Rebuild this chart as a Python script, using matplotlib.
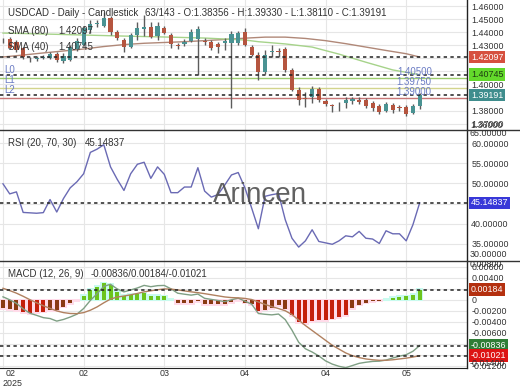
import matplotlib
matplotlib.use('Agg')
import matplotlib.pyplot as plt
from matplotlib.lines import Line2D
import numpy as np

plt.rcParams['font.family'] = ['Liberation Sans', 'DejaVu Sans']

# ---------------- data ----------------
opens = [1.4332, 1.4348, 1.4325, 1.4279, 1.4191, 1.4195, 1.4202, 1.4202, 1.4233, 1.4179,
         1.4187, 1.4271, 1.4302, 1.4416, 1.4462, 1.4447, 1.4508, 1.4401, 1.4340, 1.4286,
         1.4378, 1.4424, 1.4439, 1.4370, 1.4432, 1.4378, 1.4302, 1.4309, 1.4332, 1.4348,
         1.4332, 1.4325, 1.4309, 1.4317, 1.4317, 1.4317, 1.4401, 1.4286, 1.4225, 1.4095,
         1.4248, 1.4256, 1.4271, 1.4111, 1.3958, 1.3896, 1.3904, 1.3965, 1.3873, 1.3843,
         1.3850, 1.3858, 1.3873, 1.3881, 1.3881, 1.3858, 1.3835, 1.3797, 1.3843, 1.3827,
         1.3827, 1.3782, 1.38356]
highs = [1.4355, 1.4363, 1.4340, 1.4286, 1.4210, 1.4218, 1.4225, 1.4248, 1.4248, 1.4241,
         1.4302, 1.4355, 1.4447, 1.4493, 1.4493, 1.4554, 1.4524, 1.4416, 1.4355, 1.4393,
         1.4478, 1.4531, 1.4478, 1.4478, 1.4447, 1.4393, 1.4317, 1.4348, 1.4424, 1.4447,
         1.4355, 1.4340, 1.4325, 1.4355, 1.4409, 1.4409, 1.4432, 1.4302, 1.4248, 1.4263,
         1.4302, 1.4279, 1.4286, 1.4126, 1.3980, 1.3942, 1.3988, 1.3980, 1.3889, 1.3850,
         1.3866, 1.3904, 1.3904, 1.3904, 1.3896, 1.3873, 1.3850, 1.3866, 1.3858, 1.3843,
         1.3843, 1.3850, 1.39330]
lows = [1.4317, 1.4271, 1.4248, 1.4195, 1.4172, 1.4179, 1.4195, 1.4195, 1.4172, 1.4164,
        1.4179, 1.4256, 1.4294, 1.4393, 1.4439, 1.4439, 1.4378, 1.4340, 1.4248, 1.4279,
        1.4340, 1.4370, 1.4355, 1.4340, 1.4386, 1.4279, 1.4271, 1.4294, 1.4325, 1.4072,
        1.4302, 1.4263, 1.4241, 1.4263, 1.3820, 1.4302, 1.4294, 1.4218, 1.4034, 1.4080,
        1.4210, 1.4210, 1.4095, 1.3950, 1.3843, 1.3827, 1.3858, 1.3866, 1.3835, 1.3789,
        1.3797, 1.3820, 1.3850, 1.3850, 1.3820, 1.3797, 1.3774, 1.3789, 1.3782, 1.3797,
        1.3759, 1.3774, 1.38110]
closes = [1.4329, 1.4279, 1.4263, 1.4210, 1.4195, 1.4198, 1.4210, 1.4233, 1.4187, 1.4218,
          1.4286, 1.4332, 1.4432, 1.4462, 1.4466, 1.4508, 1.4401, 1.4355, 1.4286, 1.4378,
          1.4432, 1.4439, 1.4363, 1.4447, 1.4393, 1.4309, 1.4294, 1.4325, 1.4401, 1.4424,
          1.4325, 1.4279, 1.4286, 1.4332, 1.4386, 1.4393, 1.4302, 1.4225, 1.4095, 1.4225,
          1.4252, 1.4252, 1.4111, 1.3958, 1.3881, 1.3889, 1.3965, 1.3881, 1.3850, 1.3835,
          1.3847, 1.3881, 1.3889, 1.3866, 1.3835, 1.3820, 1.3789, 1.3850, 1.3804, 1.3820,
          1.3774, 1.3835, 1.39191]

sma80_idx = [0, 3, 6, 9, 12, 15, 18, 21, 24, 27, 30, 33, 36, 39, 42, 45, 48, 51, 54, 57, 60, 62]
sma80 = [1.4210, 1.4225, 1.4241, 1.4256, 1.4271, 1.4290, 1.4305, 1.4315, 1.4321, 1.4327,
         1.4335, 1.4344, 1.4354, 1.4362, 1.4362, 1.4352, 1.4335, 1.4312, 1.4286, 1.4260,
         1.4235, 1.42097]
sma40_idx = [0, 6, 12, 18, 24, 30, 36, 38, 42, 46, 50, 54, 58, 62]
sma40 = [1.4393, 1.4386, 1.4378, 1.4370, 1.4363, 1.4355, 1.4340, 1.4327, 1.4310, 1.4286,
         1.4232, 1.4170, 1.4111, 1.40745]

levels = [1.40500, 1.39750, 1.39000]
level_names = ['L0', 'L1', 'L2']

rsi = [49.9, 47.4, 47.9, 42.8, 42.7, 42.6, 42.75, 46.0, 42.9, 46.25,
       48.9, 50.4, 52.4, 57.7, 58.5, 59.6, 54.1, 51.0, 48.25, 52.4,
       54.75, 55.25, 51.25, 54.1, 52.25, 47.7, 47.7, 49.1, 49.1, 53.9,
       48.1, 46.6, 47.25, 49.6, 52.1, 52.7, 48.9, 43.9, 38.75, 46.8,
       47.2, 47.5, 41.0, 36.4, 34.2, 35.75, 38.5, 35.6, 35.25, 34.9,
       35.75, 37.0, 36.75, 38.1, 36.4, 36.2, 35.1, 38.25, 37.5, 37.5,
       35.75, 39.75, 45.14837]

macd_hist = [-0.00156, -0.00168, -0.00186, -0.00229, -0.00247, -0.00229, -0.00217, -0.00186, -0.00186, -0.00125,
             -0.00065, -0.00010, 0.00075, 0.00179, 0.00240, 0.00300, 0.00270, 0.00148, 0.00075, 0.00088,
             0.00100, 0.00118, 0.00075, 0.00075, 0.00063, 0.00005, -0.00060, -0.00060, -0.00060, -0.00025,
             -0.00085, -0.00085, -0.00085, -0.00085, -0.00040, -0.00005, -0.00050, -0.00085, -0.00210, -0.00180,
             -0.00150, -0.00100, -0.00162, -0.00284, -0.00405, -0.00424, -0.00393, -0.00375, -0.00375, -0.00344,
             -0.00314, -0.00284, -0.00150, -0.00089, -0.00052, -0.00022, -0.00016, 0.00005, 0.00033, 0.00051,
             0.00063, 0.00094, 0.00184]
macd_line = [0.00054, 0.00000, -0.00065, -0.00165, -0.00245, -0.00284, -0.00326, -0.00342, -0.00389, -0.00359,
             -0.00315, -0.00263, -0.00159, -0.00011, 0.00110, 0.00245, 0.00283, 0.00198, 0.00144, 0.00179,
             0.00216, 0.00263, 0.00239, 0.00258, 0.00262, 0.00200, 0.00120, 0.00102, 0.00085, 0.00105,
             0.00027, 0.00007, -0.00013, -0.00033, 0.00000, 0.00030, -0.00025, -0.00080, -0.00250, -0.00265,
             -0.00275, -0.00260, -0.00362, -0.00554, -0.00775, -0.00894, -0.00953, -0.01025, -0.01115, -0.01174,
             -0.01214, -0.01240, -0.01200, -0.01160, -0.01140, -0.01125, -0.01120, -0.01100, -0.01062, -0.01029,
             -0.01002, -0.00940, -0.00836]
signal_line = [0.00210, 0.00168, 0.00121, 0.00064, 0.00002, -0.00055, -0.00109, -0.00156, -0.00203, -0.00234,
               -0.00250, -0.00253, -0.00234, -0.00190, -0.00130, -0.00055, 0.00013, 0.00050, 0.00069, 0.00091,
               0.00116, 0.00145, 0.00164, 0.00183, 0.00199, 0.00195, 0.00180, 0.00162, 0.00145, 0.00130,
               0.00112, 0.00092, 0.00072, 0.00052, 0.00040, 0.00035, 0.00025, 0.00005, -0.00040, -0.00085,
               -0.00125, -0.00160, -0.00200, -0.00270, -0.00370, -0.00470, -0.00560, -0.00650, -0.00740, -0.00830,
               -0.00900, -0.00970, -0.01020, -0.01055, -0.01080, -0.01095, -0.01105, -0.01105, -0.01095, -0.01080,
               -0.01065, -0.01045, -0.01021]

xtick_pos = [0, 12, 24, 36, 48, 60]
xtick_labels = ['02', '02', '03', '04', '04', '05']
year_label = '2025'

price_ticks = [1.37, 1.38, 1.39, 1.40, 1.41, 1.42, 1.43, 1.44, 1.45, 1.46]
price_hidden = [1.39, 1.42]          # labels covered by the value tags
rsi_ticks = [35, 40, 45, 50, 55, 60]
macd_ticks = [-0.012, -0.010, -0.008, -0.006, -0.004, -0.002, 0.0, 0.002, 0.004, 0.006]
macd_hidden = [-0.010, -0.008, 0.002]  # labels covered by the value tags

# ---------------- layout ----------------
W, H = 520, 390
fig = plt.figure(figsize=(5.2, 3.9), dpi=100)
fig.patch.set_facecolor('white')


def fx(px):
    return px / W


def fy(py):
    return 1 - py / H


AXR = 467
ax_p = fig.add_axes([0, fy(130), fx(AXR), 130 / H])
ax_r = fig.add_axes([0, fy(261), fx(AXR), 131 / H])
ax_m = fig.add_axes([0, fy(368), fx(AXR), 107 / H])

n = len(closes)
idx = np.arange(n)
XL = (-3 / 6.72, (AXR - 3) / 6.72)

TXT = '#333333'
GRID = '#e6e6e6'
TFS = 6.4

for ax in (ax_p, ax_r, ax_m):
    ax.set_xlim(*XL)
    ax.set_xticks(xtick_pos)
    ax.grid(True, color=GRID, lw=0.8, zorder=0)
    ax.set_axisbelow(True)
    ax.yaxis.tick_right()
    ax.tick_params(axis='y', length=0, labelsize=TFS, labelcolor=TXT, pad=3)
    ax.tick_params(axis='x', length=0, labelsize=TFS, labelcolor=TXT, pad=1)
    for s in ('left', 'top', 'bottom'):
        ax.spines[s].set_visible(False)
    ax.spines['right'].set_color('#222222')
    ax.spines['right'].set_linewidth(1)
    ax.set_facecolor('white')

ax_p.set_xticklabels([])
ax_r.set_xticklabels([])
ax_m.set_xticklabels([''] + xtick_labels[1:])
ax_m.spines['bottom'].set_visible(True)
ax_m.spines['bottom'].set_color('#222222')


def tag(ax, val, text, fc, tc='white'):
    ax.annotate(text, xy=(1, val), xycoords=('axes fraction', 'data'),
                xytext=(4, 0), textcoords='offset pixels', ha='left', va='center',
                fontsize=TFS, color=tc, zorder=20, annotation_clip=False,
                bbox=dict(boxstyle='square,pad=0.22', fc=fc, ec='none'))


def dotted(ax, val):
    ax.axhline(val, color='#222222', lw=1.1, ls=(0, (2.2, 2.2)), zorder=4)


def near(v, lst):
    return any(abs(v - q) < 1e-9 for q in lst)


# ---------------- price panel ----------------
ax_p.set_ylim(1.36515, 1.4646)
ax_p.set_yticks(price_ticks)
ax_p.set_yticklabels(['' if near(v, price_hidden) else f'{v:.5f}' for v in price_ticks])

BULL = '#4a9393'
BEAR = '#b5553f'
WICK = '#5c5c5c'
o = np.array(opens); c = np.array(closes); h = np.array(highs); l = np.array(lows)
ax_p.vlines(idx, l, h, color=WICK, lw=1, zorder=3)
bcol = [BULL if cc >= oo else BEAR for oo, cc in zip(o, c)]
bodies = np.maximum(np.abs(c - o), 0.0007)
ax_p.bar(idx, bodies, bottom=np.minimum(o, c), width=0.62, color=bcol, zorder=3)

ax_p.plot(sma80_idx, sma80, color='#b08878', lw=1, zorder=2)
ax_p.plot(sma40_idx, sma40, color='#a6d38a', lw=1, zorder=2)

lvl_cols = ['#9dcc6c', '#d2d48c', '#c87676']
LBL = '#6b7cc4'
for v, name, col in zip(levels, level_names, lvl_cols):
    ax_p.axhline(v, color=col, lw=1, zorder=2)
    ax_p.annotate(f'{v:.5f}', xy=(61.2, v), xycoords='data', xytext=(0, 1),
                  textcoords='offset pixels', ha='center', va='bottom',
                  fontsize=7, color=LBL, zorder=6)
    ax_p.annotate(name, xy=(0, v), xycoords=('axes fraction', 'data'), xytext=(4, 3),
                  textcoords='offset pixels', ha='left', va='bottom',
                  fontsize=7, color=LBL, zorder=6)

dotted(ax_p, sma80[-1])
dotted(ax_p, sma40[-1])
dotted(ax_p, closes[-1])

tag(ax_p, sma80[-1], f'{sma80[-1]:.5f}', '#d6503f')
tag(ax_p, sma40[-1], f'{sma40[-1]:.5f}', '#63d92b', tc='#1d3b12')
tag(ax_p, closes[-1], f'{closes[-1]:.5f}', '#3f8d8d')
fig.text(fx(470), fy(125), '1.36000', fontsize=TFS, color=TXT, ha='left', va='center')

fig.text(fx(8), fy(12.5), 'USDCAD - Daily - Candlestick', fontsize=7, color=TXT, va='center')
fig.text(fx(145), fy(12.5),
         f'{n}/143 - O:{opens[-1]:.5f} - H:{highs[-1]:.5f} - L:{lows[-1]:.5f} - C:{closes[-1]:.5f}',
         fontsize=7, color=TXT, va='center')
fig.text(fx(8), fy(30.5), 'SMA (80)', fontsize=7, color=TXT, va='center')
fig.text(fx(58), fy(30.5), f'{sma80[-1]:.5f}', fontsize=7, color=TXT, va='center')
fig.text(fx(8), fy(46.5), 'SMA (40)', fontsize=7, color=TXT, va='center')
fig.text(fx(58), fy(46.5), f'{sma40[-1]:.5f}', fontsize=7, color=TXT, va='center')

# ---------------- RSI panel ----------------
ax_r.set_ylim(30.75, 63.25)
ax_r.set_yticks(rsi_ticks)
ax_r.set_yticklabels([f'{v:.5f}' if v != 45 else '' for v in rsi_ticks])
ax_r.plot(idx, rsi, color='#6a6ab4', lw=1, zorder=3)
dotted(ax_r, rsi[-1])
tag(ax_r, rsi[-1], f'{rsi[-1]:.5f}', '#3838d8')
fig.text(fx(470), fy(133.5), '65.00000', fontsize=TFS, color=TXT, ha='left', va='center')
fig.text(fx(470), fy(254.5), '30.00000', fontsize=TFS, color=TXT, ha='left', va='center')
fig.text(fx(8), fy(142.5), 'RSI (20, 70, 30)', fontsize=7, color=TXT, va='center')
fig.text(fx(85), fy(142.5), f'{rsi[-1]:.5f}', fontsize=7, color=TXT, va='center')
fig.text(fx(260), fy(202), 'Arincen', fontsize=20, color='#505050', alpha=0.9,
         ha='center', va='baseline', zorder=10)

# ---------------- MACD panel ----------------
ax_m.set_ylim(-0.01245, 0.00708)
ax_m.set_yticks(macd_ticks)
ax_m.set_yticklabels(['' if near(v, macd_hidden) else ('0' if abs(v) < 1e-12 else f'{v:.5f}')
                      for v in macd_ticks])
hist = np.array(macd_hist)
hcol = []
for v in hist:
    if v >= 0:
        hcol.append('#6cc41c')
    elif v < -0.002:
        hcol.append('#c4200c')
    else:
        hcol.append('#8a3a12')
glow = ['#c9fbef' if v >= 0 else '#ffdbe9' for v in hist]
gl_h = np.where(hist >= 0, hist + 0.0003, hist - 0.0003)
gl_b = np.where(hist >= 0, -0.0002, 0.0002)
ax_m.bar(idx, gl_h - gl_b, bottom=gl_b, width=1.0, color=glow, zorder=1)
ax_m.bar(idx, hist, width=0.6, color=hcol, zorder=3)
ax_m.plot(idx, macd_line, color='#7f9f84', lw=1, zorder=4)
ax_m.plot(idx, signal_line, color='#b0805f', lw=1, zorder=4)
dotted(ax_m, macd_hist[-1])
dotted(ax_m, macd_line[-1])
dotted(ax_m, signal_line[-1])
tag(ax_m, macd_hist[-1], f'{macd_hist[-1]:.5f}', '#b4300f')
tag(ax_m, macd_line[-1], f'{macd_line[-1]:.5f}', '#2f7d35')
tag(ax_m, signal_line[-1], f'{signal_line[-1]:.5f}', '#dd1414')
fig.text(fx(470), fy(264.5), '0.00800', fontsize=TFS, color=TXT, ha='left', va='center')
fig.text(fx(470), fy(363.5), '-0.01400', fontsize=TFS, color=TXT, ha='left', va='center')
fig.text(fx(8), fy(274), 'MACD (12, 26, 9)', fontsize=7, color=TXT, va='center')
fig.text(fx(91), fy(274),
         f'{macd_line[-1]:.5f}/{macd_hist[-1]:.5f}/{signal_line[-1]:.5f}',
         fontsize=7, color=TXT, va='center')

fig.text(fx(11), fy(374), xtick_labels[0], fontsize=TFS, color=TXT, ha='center', va='center')
fig.text(fx(13), fy(384), year_label, fontsize=TFS, color=TXT, ha='center', va='center')

# panel separators spanning full width
for yy in (130.5, 261):
    fig.add_artist(Line2D([0, 1], [fy(yy), fy(yy)], color='#333333', lw=1))

fig.savefig('out.png', dpi=100)
